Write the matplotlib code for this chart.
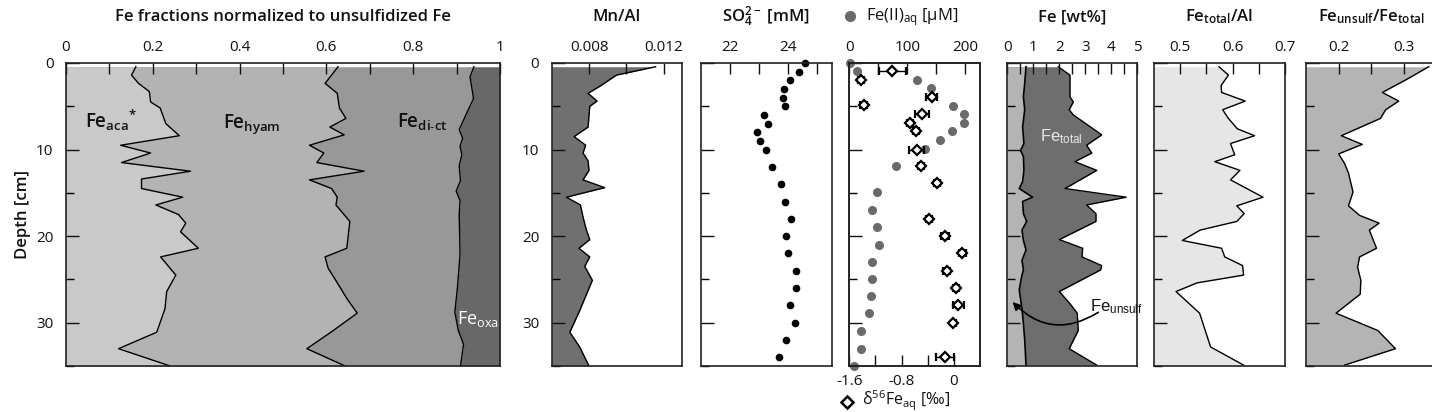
import numpy as np
import matplotlib.pyplot as plt
from matplotlib.ticker import MultipleLocator, FixedLocator, FixedFormatter
from matplotlib.lines import Line2D

plt.rcParams['font.family'] = ['Open Sans', 'DejaVu Sans']
plt.rcParams['mathtext.default'] = 'regular'

# ---- data (depth in cm) ----
# Fe fractions normalized to unsulfidized Fe: cumulative boundaries
aca_depth = [0.43, 1.4, 2.35, 3.3, 4.5, 5.2, 7.0, 8.4, 9.5, 10.4, 11.5, 12.5, 13.4, 14.5,
             15.5, 16.4, 17.5, 18.5, 19.5, 21.4, 22.4, 24.5, 26.4, 28.4, 31.1, 33.0, 35.0]
aca_val = [0.161, 0.151, 0.167, 0.192, 0.195, 0.217, 0.230, 0.261, 0.126, 0.195, 0.128, 0.287,
           0.174, 0.174, 0.269, 0.207, 0.259, 0.276, 0.264, 0.305, 0.218, 0.253, 0.232, 0.228,
           0.209, 0.121, 0.240]
hyam_depth = [0.43, 2.35, 3.5, 5.2, 6.4, 7.4, 8.3, 9.5, 10.4, 11.5, 12.5, 13.5, 14.5, 15.5,
              16.4, 18.3, 21.4, 22.4, 23.7, 25.3, 27.2, 28.9, 30.9, 33.0, 35.0]
hyam_val = [0.627, 0.597, 0.625, 0.630, 0.645, 0.608, 0.641, 0.561, 0.594, 0.578, 0.687,
            0.561, 0.612, 0.625, 0.622, 0.654, 0.647, 0.597, 0.604, 0.624, 0.647, 0.671,
            0.616, 0.555, 0.643]
dict_depth = [0.43, 1.6, 4.1, 5.4, 6.6, 7.7, 8.7, 9.6, 10.6, 11.9, 13.6, 14.8, 15.9, 17.5,
              22.1, 25.9, 28.8, 30.9, 32.5, 35.0]
dict_val = [0.940, 0.931, 0.939, 0.927, 0.916, 0.906, 0.914, 0.908, 0.912, 0.906, 0.909,
            0.899, 0.908, 0.906, 0.908, 0.902, 0.896, 0.904, 0.916, 0.909]

# Mn/Al
mnal_depth = [0.43, 1.4, 2.7, 3.5, 4.4, 5.0, 7.4, 8.5, 9.5, 10.4, 11.3, 12.4, 13.5, 14.4,
              15.5, 16.4, 17.8, 19.3, 20.4, 21.4, 22.4, 23.5, 25.1, 28.6, 31.1, 32.8, 35.0]
mnal_val = [0.01157, 0.00947, 0.00857, 0.00795, 0.00843, 0.00804, 0.00795, 0.00720, 0.00782,
            0.00768, 0.00795, 0.00800, 0.00768, 0.00884, 0.00679, 0.00754, 0.00768, 0.00786,
            0.00804, 0.00746, 0.00804, 0.00777, 0.00818, 0.00750, 0.00697, 0.00750, 0.00800]

# sulfate [mM]
so4_depth = [0, 1, 2, 3, 4, 5, 6, 7, 8, 9, 10, 12, 14, 16, 18, 20, 22, 24, 26, 28, 30, 32, 34]
so4_val = [24.57, 24.38, 24.08, 23.86, 23.81, 23.88, 23.18, 23.31, 22.92, 23.02, 23.25, 23.46,
           23.77, 23.88, 24.10, 23.91, 23.99, 24.26, 24.27, 24.06, 24.22, 23.92, 23.67]

# Fe(II)aq [uM]
fe2_depth = [0, 0.9, 2.0, 2.9, 5.0, 5.9, 6.9, 7.9, 8.9, 9.9, 11.9, 14.9, 17, 19, 21, 23, 25,
             26.9, 28.9, 31, 33, 35]
fe2_val = [1, 14, 117, 140, 179, 197, 197, 176, 157, 130, 81, 47, 39.5, 47, 51, 39.5, 39.5,
           37, 34, 19.5, 19.5, 8.6]

# d56Fe_aq [permil]
d56_depth = [0.9, 2.0, 3.9, 4.9, 5.9, 6.9, 7.9, 10.0, 11.9, 13.9, 18.0, 20.0, 22.0, 24.0,
             26.0, 28.0, 30.0, 34.0]
d56_val = [-0.94, -1.42, -0.34, -1.38, -0.49, -0.67, -0.58, -0.57, -0.50, -0.26, -0.38,
           -0.14, 0.13, -0.11, 0.03, 0.07, -0.01, -0.14]
d56_err = [0.20, 0.05, 0.08, 0.05, 0.11, 0.05, 0.05, 0.12, 0.05, 0.05, 0.05, 0.06, 0.05,
           0.05, 0.05, 0.09, 0.04, 0.14]

# Fe [wt%]
unsulf_depth = [0.43, 2.35, 3.9, 5.4, 7.4, 9.3, 10.1, 10.8, 12.4, 13.7, 14.5, 15.5, 16.0,
                17.4, 18.3, 19.3, 20.5, 21.6, 22.8, 23.9, 24.7, 26.2, 28.4, 30.1, 32.0, 34.9]
unsulf_val = [0.72, 0.67, 0.62, 0.67, 0.59, 0.64, 0.51, 0.62, 0.64, 0.59, 0.46, 0.97, 0.59,
              0.62, 0.745, 0.565, 0.62, 0.72, 0.565, 0.62, 0.55, 0.46, 0.565, 0.62, 0.67, 0.72]
total_depth = [0.43, 1.4, 3.9, 4.5, 5.4, 6.0, 8.3, 9.5, 10.4, 11.4, 12.4, 14.5, 15.5, 16.4,
               17.4, 18.3, 20.4, 21.4, 22.4, 23.4, 23.9, 26.4, 27.8, 28.9, 30.9, 33.0, 34.9]
total_val = [1.96, 2.41, 2.41, 2.54, 2.38, 2.54, 3.63, 3.05, 3.25, 2.60, 3.44, 2.22, 4.57,
             3.05, 3.41, 3.41, 2.00, 2.90, 2.87, 3.63, 3.59, 2.00, 2.41, 2.69, 2.73, 2.38, 3.44]

# Fe_total / Al
feal_depth = [0.43, 1.4, 2.6, 3.4, 4.4, 5.4, 6.4, 7.6, 8.4, 9.3, 10.6, 11.4, 12.4, 13.5,
              15.5, 16.5, 17.4, 18.3, 19.3, 20.5, 21.4, 22.4, 23.4, 24.5, 25.4, 26.4, 28.9,
              32.8, 34.9]
feal_val = [0.574, 0.592, 0.578, 0.579, 0.624, 0.581, 0.592, 0.609, 0.642, 0.596, 0.604,
            0.566, 0.614, 0.596, 0.658, 0.608, 0.622, 0.608, 0.538, 0.504, 0.579, 0.585,
            0.619, 0.621, 0.532, 0.492, 0.537, 0.558, 0.621]

# Fe_unsulf / Fe_total
ratio_depth = [0.43, 1.9, 3.4, 4.4, 5.4, 6.4, 8.4, 9.4, 10.5, 11.6, 12.7, 14.9, 16.5, 17.6,
               18.5, 19.3, 21.4, 22.4, 23.6, 25.1, 26.7, 28.9, 30.9, 33.0, 34.9]
ratio_val = [0.338, 0.304, 0.267, 0.292, 0.272, 0.264, 0.204, 0.236, 0.200, 0.209, 0.215,
             0.222, 0.215, 0.232, 0.262, 0.247, 0.258, 0.232, 0.229, 0.234, 0.233, 0.196,
             0.260, 0.287, 0.209]

# ---- figure ----
W, H = 1432, 412
fig = plt.figure(figsize=(W / 100, H / 100), dpi=100)
TOP, BOT = 63, 366
TXT = '#111111'


def panel(x0, x1):
    return fig.add_axes([x0 / W, 1 - BOT / H, (x1 - x0) / W, (BOT - TOP) / H])


def xticks_top(ax, ticks, labels):
    ax.xaxis.tick_top()
    ax.xaxis.set_major_locator(FixedLocator(ticks))
    ax.xaxis.set_major_formatter(FixedFormatter(labels))
    ax.tick_params(axis='x', direction='in', top=True, bottom=False, labeltop=True,
                   labelbottom=False, length=8, width=1, labelsize=11, pad=6, colors=TXT)


def style(ax, xlim, ticks, labels, ylabels=False):
    ax.set_xlim(*xlim)
    ax.set_ylim(35, 0)
    xticks_top(ax, ticks, labels)
    ax.yaxis.set_major_locator(MultipleLocator(10))
    ax.yaxis.set_minor_locator(MultipleLocator(5))
    ax.tick_params(axis='y', which='major', direction='in', left=True, right=False,
                   length=9, width=1, labelsize=11, pad=9, labelleft=ylabels, colors=TXT)
    ax.tick_params(axis='y', which='minor', direction='in', left=True, right=False,
                   length=6, width=1)
    for s in ax.spines.values():
        s.set_linewidth(1.2)
        s.set_color('#222222')


title_kw = dict(fontsize=12, fontweight='semibold', ha='center', va='center', color=TXT)

# panel 1: Fe fractions
ax1 = panel(66, 500)
style(ax1, (0, 1), np.arange(0, 1.01, 0.1),
      ['0', '', '0.2', '', '0.4', '', '0.6', '', '0.8', '', '1'], ylabels=True)
ax1.set_ylabel('Depth [cm]', fontsize=12, fontweight='semibold', labelpad=4, color=TXT)
ax1.fill_betweenx(dict_depth, dict_val, 1, color='#686868', lw=0)
ax1.fill_betweenx(dict_depth, 0, dict_val, color='#989898', lw=0)
ax1.fill_betweenx(hyam_depth, 0, hyam_val, color='#b3b3b3', lw=0)
ax1.fill_betweenx(aca_depth, 0, aca_val, color='#c9c9c9', lw=0)
for d, v in [(aca_depth, aca_val), (hyam_depth, hyam_val), (dict_depth, dict_val)]:
    ax1.plot(v, d, color='black', lw=1)
ax1.text(0.044, 7.5, 'Fe$_{aca}{}^{*}$', fontsize=13.5, fontweight='semibold', va='baseline', color=TXT)
ax1.text(0.362, 7.5, 'Fe$_{hyam}$', fontsize=13.5, fontweight='semibold', va='baseline', color=TXT)
ax1.text(0.763, 7.5, 'Fe$_{di\u2011ct}$', fontsize=13.5, fontweight='semibold', va='baseline', color=TXT)
ax1.text(0.901, 30.1, 'Fe$_{oxa}$', fontsize=13, color='white', va='baseline')
fig.text(283 / W, 1 - 17 / H, 'Fe fractions normalized to unsulfidized Fe', **title_kw)

# panel 2: Mn/Al
ax2 = panel(551.7, 682.3)
style(ax2, (0.006, 0.013), [0.008, 0.010, 0.012], ['0.008', '', '0.012'], ylabels=True)
ax2.fill_betweenx(mnal_depth, 0.006, mnal_val, color='#707070', lw=0)
ax2.plot(mnal_val, mnal_depth, color='black', lw=1)
fig.text(617 / W, 1 - 17 / H, 'Mn/Al', **title_kw)

# panel 3: sulfate
ax3 = panel(701, 831.7)
style(ax3, (21, 25.5), [22, 23, 24, 25], ['22', '', '24', ''])
ax3.plot(so4_val, so4_depth, 'o', color='black', ms=4.5, clip_on=False)
fig.text(766 / W, 1 - 17 / H, 'SO$_4^{2-}$ [mM]', **title_kw)

# panel 4: Fe(II)aq (top axis) and d56Fe (bottom axis)
ax4 = panel(849.3, 980)
style(ax4, (0, 225), [0, 50, 100, 150, 200], ['0', '', '100', '', '200'])
ax4.plot(fe2_val, fe2_depth, 'o', color='#6a6a6a', ms=5.5, clip_on=False)
ax4b = ax4.twiny()
xticks_top(ax4, [0, 50, 100, 150, 200], ['0', '', '100', '', '200'])
ax4b.set_xlim(-1.6, 0.4)
ax4b.set_ylim(35, 0)
ax4b.xaxis.tick_bottom()
ax4b.xaxis.set_major_locator(FixedLocator([-1.6, -1.2, -0.8, -0.4, 0]))
ax4b.xaxis.set_major_formatter(FixedFormatter(['-1.6', '', '-0.8', '', '0']))
ax4b.tick_params(axis='x', direction='in', bottom=True, top=False, labelbottom=True,
                 labeltop=False, length=8, width=1, labelsize=11, pad=6, colors=TXT)
for s in ax4b.spines.values():
    s.set_linewidth(1.2)
    s.set_color('#222222')
ax4b.errorbar(d56_val, d56_depth, xerr=d56_err, fmt='D', mfc='white', mec='black',
              ms=5, mew=1.6, ecolor='black', elinewidth=1, capsize=3, capthick=1)
fig.add_artist(Line2D([850 / W], [1 - 16 / H], marker='o', color='#6a6a6a', ms=7,
                      transform=fig.transFigure))
fig.text(866 / W, 1 - 17 / H, 'Fe(II)$_{aq}$ [\u00b5M]', fontsize=12, ha='left', va='center',
         color=TXT)
fig.add_artist(Line2D([847 / W], [1 - 402 / H], marker='D', mfc='white', mec='black', ms=6,
                      mew=1.8, transform=fig.transFigure))
fig.text(862 / W, 1 - 401 / H, '\u03b4$^{56}$Fe$_{aq}$ [\u2030]', fontsize=11.5, ha='left',
         va='center', color=TXT)

# panel 5: Fe wt%
ax5 = panel(1007.3, 1137.3)
style(ax5, (0, 5), np.arange(0, 5.01, 0.5),
      ['0', '', '1', '', '2', '', '3', '', '4', '', '5'])
ax5.fill_betweenx(total_depth, 0, total_val, color='#6e6e6e', lw=0)
ax5.fill_betweenx(unsulf_depth, 0, unsulf_val, color='#b4b4b4', lw=0)
ax5.plot(total_val, total_depth, color='black', lw=1)
ax5.plot(unsulf_val, unsulf_depth, color='black', lw=1.2)
ax5.text(1.26, 9.0, 'Fe$_{total}$', fontsize=12, color='#e8e8e8', va='baseline',
         family=['Liberation Sans', 'DejaVu Sans'])
ax5.text(3.18, 28.7, 'Fe$_{unsulf}$', fontsize=12, color=TXT, va='baseline',
         family=['Liberation Sans', 'DejaVu Sans'])
ax5.annotate('', xy=(0.2, 27.6), xytext=(3.5, 28.8),
             arrowprops=dict(arrowstyle='-|>', color='black', lw=1.2, mutation_scale=12,
                             connectionstyle='arc3,rad=-0.4', shrinkA=0, shrinkB=0))
fig.text(1072 / W, 1 - 17 / H, 'Fe [wt%]', **title_kw)

# panel 6: Fe_total/Al
ax6 = panel(1154, 1285)
style(ax6, (0.45, 0.70), [0.5, 0.55, 0.6, 0.65, 0.7], ['0.5', '', '0.6', '', '0.7'])
ax6.fill_betweenx(feal_depth, 0.45, feal_val, color='#e6e6e6', lw=0)
ax6.plot(feal_val, feal_depth, color='black', lw=1)
fig.text(1219 / W, 1 - 17 / H, 'Fe$_{total}$/Al', **title_kw)

# panel 7: Fe_unsulf/Fe_total
ax7 = panel(1306, 1436.6)
style(ax7, (0.15, 0.35), [0.2, 0.25, 0.3], ['0.2', '', '0.3'])
ax7.fill_betweenx(ratio_depth, 0.15, ratio_val, color='#b4b4b4', lw=0)
ax7.plot(ratio_val, ratio_depth, color='black', lw=1)
fig.text(1371 / W, 1 - 17 / H, 'Fe$_{unsulf}$/Fe$_{total}$', **title_kw)

fig.savefig('out.png', dpi=100, facecolor='white')
